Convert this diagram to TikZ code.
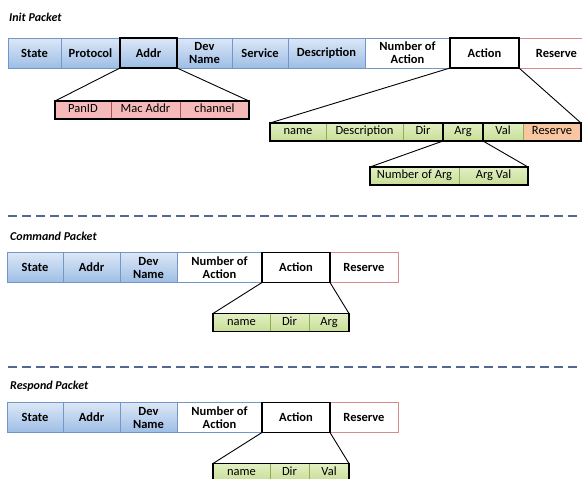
\documentclass[tikz,border=0pt]{standalone}
\usepackage{fontspec}
\setmainfont{Carlito}
\usetikzlibrary{positioning}
\definecolor{bluetop}{HTML}{DCE7F6}
\definecolor{bluebot}{HTML}{9EBEE6}
\definecolor{blueline}{HTML}{7396C8}
\definecolor{redline}{HTML}{D68C8C}
\definecolor{pinkfill}{HTML}{F5B9B9}
\definecolor{pinkline}{HTML}{B05050}
\definecolor{greentop}{HTML}{E2EFC4}
\definecolor{greenbot}{HTML}{C8DE96}
\definecolor{greenline}{HTML}{8FAE4F}
\definecolor{orangefill}{HTML}{F8C6A0}
\definecolor{sepblue}{HTML}{52698F}
\tikzset{
cell/.style={rectangle, draw=blueline, top color=bluetop, bottom color=bluebot, minimum height=30pt,
  inner sep=0pt, outer sep=0pt, align=center, font=\bfseries\fontsize{12.5}{13}\selectfont},
plain/.style={cell, top color=white, bottom color=white},
act/.style={plain, draw=black, line width=1.4pt},
res/.style={plain, draw=redline},
sub/.style={rectangle, minimum height=18pt, inner sep=0pt, outer sep=0pt, text height=7.5pt, text depth=2.5pt,
  font=\fontsize{12.5}{12.5}\selectfont},
pink/.style={sub, draw=pinkline, fill=pinkfill},
green/.style={sub, draw=greenline, top color=greentop, bottom color=greenbot},
orng/.style={sub, draw=greenline, fill=orangefill},
outer/.style={draw=black, line width=1.4pt},
zoom/.style={draw=black, line width=0.9pt},
sep/.style={draw=sepblue, line width=1.2pt, dash pattern=on 9pt off 5pt},
title/.style={anchor=west, inner sep=0pt, font=\bfseries\itshape\fontsize{12}{12}\selectfont}
}

\begin{document}
\begin{tikzpicture}[x=1pt, y=-1pt]
\useasboundingbox (0,0) rectangle (582,479);
% init packet
\node[title] (t1) at (9,17) {Init Packet};
\node[cell, minimum width=53pt, anchor=west] (i1) at (8,53) {State};
\node[cell, minimum width=59pt, right=0pt of i1] (i2) {Protocol};
\node[cell, minimum width=57pt, right=0pt of i2] (i3) {Addr};
\node[cell, minimum width=55pt, right=0pt of i3] (i4) {Dev\\Name};
\node[cell, minimum width=56pt, right=0pt of i4] (i5) {Service};
\node[cell, minimum width=77pt, right=0pt of i5] (i6) {Description};
\node[plain, minimum width=85pt, right=0pt of i6] (i7) {Number of\\Action};
\node[res, minimum width=75pt, right=0pt of i7, xshift=69pt] (i9) {Reserve};
\node[act, minimum width=69pt, right=0pt of i7] (i8) {Action};
\draw[outer] (i3.north west) rectangle (i3.south east);
% addr fields
\node[pink, minimum width=56pt, anchor=west] (p1) at (55,110) {PanID};
\node[pink, minimum width=69pt, right=0pt of p1] (p2) {Mac Addr};
\node[pink, minimum width=69pt, right=0pt of p2] (p3) {channel};
\draw[outer] (p1.north west) rectangle (p3.south east);
\draw[zoom] (i3.south west) -- (p1.north west) (i3.south east) -- (p3.north east);
% action fields
\node[green, minimum width=56pt, anchor=west] (a1) at (270,132) {name};
\node[green, minimum width=77pt, right=0pt of a1] (a2) {Description};
\node[green, minimum width=40pt, right=0pt of a2] (a3) {Dir};
\node[green, minimum width=40pt, right=0pt of a3] (a4) {Arg};
\node[green, minimum width=40pt, right=0pt of a4] (a5) {Val};
\node[orng, minimum width=58pt, right=0pt of a5] (a6) {Reserve};
\draw[outer] (a1.north west) rectangle (a6.south east);
\draw[outer] (a4.north west) rectangle (a4.south east);
\draw[zoom] (i8.south west) -- (a1.north west) (i8.south east) -- (a6.north east);
% arg fields
\node[green, minimum width=89pt, anchor=west] (g1) at (370,176) {Number of Arg};
\node[green, minimum width=69pt, right=0pt of g1] (g2) {Arg Val};
\draw[outer] (g1.north west) rectangle (g2.south east);
\draw[zoom] (a4.south west) -- (g1.north west) (a4.south east) -- (g2.north east);
\coordinate (d1a) at (8,216);
\coordinate (d1b) at (582,216);
\draw[sep] (d1a) -- (d1b);
% command packet
\node[title] (t2) at (10,236) {Command Packet};
\node[cell, minimum width=56pt, anchor=west] (c1) at (7,267.5) {State};
\node[cell, minimum width=57pt, right=0pt of c1] (c2) {Addr};
\node[cell, minimum width=57pt, right=0pt of c2] (c3) {Dev\\Name};
\node[plain, minimum width=85pt, right=0pt of c3] (c4) {Number of\\Action};
\node[res, minimum width=68pt, right=0pt of c4, xshift=68pt] (c6) {Reserve};
\node[act, minimum width=68pt, right=0pt of c4] (c5) {Action};
\node[green, minimum width=57pt, anchor=west] (m1) at (213,322.5) {name};
\node[green, minimum width=39pt, right=0pt of m1] (m2) {Dir};
\node[green, minimum width=40pt, right=0pt of m2] (m3) {Arg};
\draw[outer] (m1.north west) rectangle (m3.south east);
\draw[zoom] (c5.south west) -- (m1.north west) (c5.south east) -- (m3.north east);
\coordinate (d2a) at (8,367);
\coordinate (d2b) at (582,367);
\draw[sep] (d2a) -- (d2b);
% respond packet
\node[title] (t3) at (10,386) {Respond Packet};
\node[cell, minimum width=56pt, anchor=west] (r1) at (7,417.5) {State};
\node[cell, minimum width=57pt, right=0pt of r1] (r2) {Addr};
\node[cell, minimum width=57pt, right=0pt of r2] (r3) {Dev\\Name};
\node[plain, minimum width=85pt, right=0pt of r3] (r4) {Number of\\Action};
\node[res, minimum width=68pt, right=0pt of r4, xshift=68pt] (r6) {Reserve};
\node[act, minimum width=68pt, right=0pt of r4] (r5) {Action};
\node[green, minimum width=57pt, anchor=west] (v1) at (213,472.5) {name};
\node[green, minimum width=39pt, right=0pt of v1] (v2) {Dir};
\node[green, minimum width=40pt, right=0pt of v2] (v3) {Val};
\draw[outer] (v1.north west) rectangle (v3.south east);
\draw[zoom] (r5.south west) -- (v1.north west) (r5.south east) -- (v3.north east);
\end{tikzpicture}
\end{document}
